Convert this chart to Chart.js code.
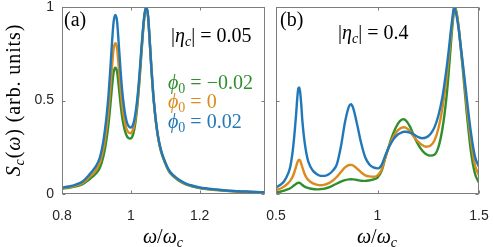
<!DOCTYPE html>
<html>
<head>
<meta charset="utf-8">
<script src="https://cdn.jsdelivr.net/npm/chart.js@4.4.1/dist/chart.umd.min.js"></script>
<style>
  body { margin:0; width:493px; height:247px; overflow:hidden; background:#fff; position:relative; }
  canvas { position:absolute; top:0; }
  .t { position:absolute; font-family:"Liberation Serif", serif; font-size:20px; line-height:20px; white-space:nowrap; color:#000; }
  .t sub { font-size:70%; line-height:0; vertical-align:baseline; position:relative; top:0.28em; }
  .c { transform:translateX(-50%); }
  .ylab { transform:translate(-50%,-50%) rotate(-90deg); letter-spacing:0.9px; }
</style>
</head>
<body>
<canvas id="chartA" width="270" height="247" style="left:0"></canvas>
<canvas id="chartB" width="238" height="247" style="left:255px"></canvas>

<div class="t" style="left:64px; top:9px">(a)</div>
<div class="t" style="left:171px; top:25px">|<i>η</i><sub><i>c</i></sub>| = 0.05</div>
<div class="t" style="left:168px; top:72px; color:#2f8f2f"><i>ϕ</i><sub>0</sub> = −0.02</div>
<div class="t" style="left:168px; top:91px; color:#db8a1c"><i>ϕ</i><sub>0</sub> = 0</div>
<div class="t" style="left:168px; top:111px; color:#2178b8"><i>ϕ</i><sub>0</sub> = 0.02</div>
<div class="t" style="left:280px; top:9px">(b)</div>
<div class="t" style="left:338px; top:22px">|<i>η</i><sub><i>c</i></sub>| = 0.4</div>
<div class="t c" style="left:163px; top:226px"><i>ω</i>/<i>ω</i><sub><i>c</i></sub></div>
<div class="t c" style="left:377px; top:226px"><i>ω</i>/<i>ω</i><sub><i>c</i></sub></div>
<div class="t ylab" style="left:13px; top:100px"><i>S</i><sub><i>c</i></sub>(<i>ω</i>) (arb. units)</div>

<script>
// (a) |eta_c| = 0.05
const omegaA = [0.80,0.82,0.84,0.86,0.88,0.89,0.90,0.91,0.92,0.925,0.93,0.935,0.94,0.945,0.95,0.955,0.96,0.965,0.97,0.975,0.98,0.985,0.99,0.995,1.00,1.005,1.01,1.015,1.02,1.025,1.03,1.035,1.04,1.045,1.05,1.055,1.06,1.065,1.07,1.075,1.08,1.085,1.09,1.10,1.11,1.12,1.13,1.14,1.16,1.18,1.20,1.25,1.30,1.35,1.39];
const sA_pos  = [0.034,0.040,0.050,0.067,0.105,0.127,0.153,0.195,0.28,0.345,0.425,0.525,0.655,0.80,0.92,0.957,0.925,0.80,0.665,0.55,0.47,0.41,0.375,0.36,0.355,0.365,0.395,0.45,0.53,0.635,0.76,0.875,0.965,1.0,0.955,0.82,0.67,0.54,0.44,0.36,0.30,0.255,0.22,0.17,0.13,0.106,0.09,0.076,0.056,0.044,0.035,0.024,0.016,0.012,0.009];
const sA_zero = [0.031,0.036,0.045,0.059,0.091,0.109,0.131,0.166,0.238,0.29,0.36,0.443,0.552,0.674,0.776,0.806,0.78,0.677,0.565,0.472,0.41,0.364,0.338,0.327,0.325,0.338,0.37,0.427,0.51,0.618,0.745,0.866,0.96,1.0,0.952,0.817,0.667,0.537,0.437,0.357,0.297,0.252,0.217,0.167,0.127,0.103,0.087,0.073,0.054,0.042,0.033,0.022,0.015,0.011,0.008];
const sA_neg  = [0.029,0.033,0.041,0.053,0.079,0.094,0.112,0.14,0.20,0.243,0.30,0.371,0.463,0.566,0.649,0.675,0.655,0.575,0.485,0.41,0.36,0.325,0.305,0.298,0.297,0.31,0.345,0.405,0.49,0.60,0.73,0.856,0.955,1.0,0.95,0.814,0.664,0.534,0.434,0.354,0.294,0.249,0.214,0.164,0.124,0.10,0.085,0.071,0.052,0.04,0.032,0.021,0.014,0.010,0.007];

// (b) |eta_c| = 0.4
const omegaB = [0.50,0.52,0.54,0.56,0.57,0.58,0.59,0.60,0.605,0.61,0.615,0.62,0.625,0.63,0.64,0.65,0.66,0.68,0.70,0.72,0.74,0.76,0.78,0.80,0.82,0.84,0.86,0.87,0.88,0.90,0.92,0.94,0.96,0.98,1.00,1.02,1.04,1.06,1.08,1.10,1.12,1.13,1.14,1.16,1.18,1.20,1.22,1.24,1.26,1.28,1.30,1.32,1.34,1.35,1.36,1.37,1.377,1.38,1.39,1.40,1.41,1.42,1.44,1.46,1.48,1.50];
const sB_pos  = [0.035,0.048,0.068,0.11,0.145,0.21,0.31,0.44,0.515,0.565,0.57,0.535,0.47,0.39,0.285,0.215,0.17,0.127,0.107,0.097,0.097,0.105,0.125,0.16,0.255,0.385,0.47,0.48,0.46,0.37,0.27,0.195,0.158,0.142,0.137,0.155,0.21,0.258,0.295,0.318,0.33,0.333,0.333,0.328,0.318,0.305,0.298,0.303,0.32,0.355,0.42,0.52,0.67,0.76,0.86,0.95,1.0,0.995,0.95,0.88,0.79,0.70,0.51,0.33,0.20,0.146];
const sB_zero = [0.022,0.028,0.04,0.058,0.07,0.088,0.115,0.15,0.168,0.18,0.183,0.176,0.16,0.142,0.11,0.088,0.074,0.058,0.05,0.047,0.05,0.058,0.072,0.092,0.118,0.142,0.155,0.156,0.152,0.135,0.115,0.10,0.094,0.092,0.10,0.13,0.20,0.262,0.31,0.34,0.355,0.357,0.354,0.335,0.305,0.28,0.262,0.253,0.258,0.285,0.35,0.46,0.62,0.72,0.83,0.93,0.99,1.0,0.96,0.89,0.79,0.69,0.47,0.29,0.155,0.10];
const sB_neg  = [0.008,0.012,0.018,0.026,0.031,0.038,0.047,0.055,0.058,0.06,0.06,0.057,0.053,0.048,0.04,0.035,0.031,0.027,0.025,0.026,0.029,0.035,0.045,0.056,0.066,0.074,0.078,0.079,0.078,0.075,0.071,0.07,0.073,0.078,0.088,0.122,0.20,0.27,0.33,0.375,0.398,0.40,0.393,0.36,0.31,0.265,0.233,0.213,0.205,0.21,0.25,0.35,0.52,0.64,0.78,0.91,0.98,1.0,0.97,0.89,0.78,0.67,0.43,0.23,0.11,0.06];

const ticksAx = [0.8, 1, 1.2];
const ticksBx = [0.5, 1, 1.5];
const ticksY = [0, 0.5, 1];

const BLUE = '#2178b8', ORANGE = '#db8a1c', GREEN = '#2f8f2f';

function pts(xs, ys) {
    return xs.map((x, i) => ({ x: x, y: ys[i] }));
}

// box round the axes with inward tick marks on all four sides
const boxTicks = {
    id: 'boxTicks',
    afterDraw(chart, args, opts) {
        const { ctx, chartArea: a } = chart;
        const x = chart.scales.x, y = chart.scales.y;
        const L = Math.round(a.left) + 0.5, R = Math.round(a.right) - 0.5;
        const T = Math.round(a.top) + 0.5, B = Math.round(a.bottom) - 0.5;
        ctx.save();
        ctx.strokeStyle = '#7d7d7d';
        ctx.lineWidth = 1;
        ctx.strokeRect(L, T, R - L, B - T);
        ctx.beginPath();
        opts.xTicks.forEach(v => {
            const px = Math.round(x.getPixelForValue(v)) + 0.5;
            ctx.moveTo(px, B); ctx.lineTo(px, B - 3);
            ctx.moveTo(px, T); ctx.lineTo(px, T + 3);
        });
        ticksY.forEach(v => {
            const py = Math.round(y.getPixelForValue(v)) + 0.5;
            ctx.moveTo(L, py); ctx.lineTo(L + 3, py);
            ctx.moveTo(R, py); ctx.lineTo(R - 3, py);
        });
        ctx.stroke();
        ctx.restore();
    }
};

function makeChart(id, xs, yNeg, yZero, yPos, xMin, xMax, xTicks, showY, yWidth, padRight) {
    const line = (data, color, order) => ({
        data: pts(xs, data),
        borderColor: color,
        borderWidth: 2.4,
        pointRadius: 0,
        fill: false,
        cubicInterpolationMode: 'monotone',
        order: order
    });
    return new Chart(document.getElementById(id).getContext('2d'), {
        type: 'line',
        data: {
            datasets: [
                line(yPos, BLUE, 0),
                line(yZero, ORANGE, 1),
                line(yNeg, GREEN, 2)
            ]
        },
        options: {
            responsive: false,
            animation: false,
            layout: { autoPadding: false, padding: { top: 7, right: padRight, left: 0, bottom: 0 } },
            plugins: {
                legend: { display: false },
                tooltip: { enabled: false },
                boxTicks: { xTicks: xTicks }
            },
            scales: {
                x: {
                    type: 'linear',
                    min: xMin,
                    max: xMax,
                    grid: { display: false, drawTicks: false },
                    border: { display: false },
                    afterBuildTicks: s => { s.ticks = xTicks.map(v => ({ value: v })); },
                    afterFit: s => { s.height = 53; s.paddingLeft = 0; s.paddingRight = 0; },
                    ticks: {
                        padding: 14,
                        maxRotation: 0,
                        color: '#262626',
                        font: { family: 'Liberation Sans', size: 14 },
                        callback: v => String(v)
                    }
                },
                y: {
                    min: 0,
                    max: 1,
                    grid: { display: false, drawTicks: false },
                    border: { display: false },
                    afterBuildTicks: s => { s.ticks = ticksY.map(v => ({ value: v })); },
                    afterFit: s => { s.width = yWidth; s.paddingTop = 0; s.paddingBottom = 0; },
                    ticks: {
                        display: showY,
                        padding: 8,
                        color: '#262626',
                        font: { family: 'Liberation Sans', size: 14 },
                        callback: v => String(v)
                    }
                }
            }
        },
        plugins: [boxTicks]
    });
}

makeChart('chartA', omegaA, sA_neg, sA_zero, sA_pos, 0.8, 1.39, ticksAx, true, 62, 5);
makeChart('chartB', omegaB, sB_neg, sB_zero, sB_pos, 0.5, 1.5, ticksBx, false, 21, 14);
</script>
</body>
</html>
